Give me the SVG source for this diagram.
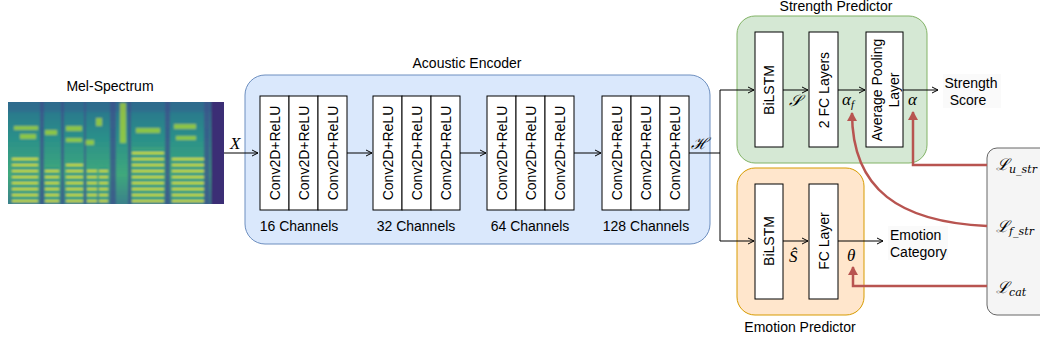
<svg xmlns="http://www.w3.org/2000/svg" width="1040" height="347" viewBox="0 0 1040 347">
<style>
text{font-family:"Liberation Sans",Arial,sans-serif;font-size:14px;fill:#000}
.m{font-family:"Liberation Serif","DejaVu Serif",serif;font-style:italic;font-size:17px}
.c{font-family:"DejaVu Serif",serif;font-style:italic;font-size:16px}
.blk{fill:#fff;stroke:#000;stroke-width:1}
.ln{fill:none;stroke:#000;stroke-width:1}
.red{fill:none;stroke:#b85450;stroke-width:2.5}
.v{text-anchor:middle;dominant-baseline:central}
</style>
<defs>
<marker id="ar" markerWidth="8" markerHeight="8" refX="7" refY="4" orient="auto" markerUnits="userSpaceOnUse">
<path d="M1,1 L7,4 L1,7" fill="none" stroke="#000" stroke-width="1"/>
</marker>
<marker id="rar" markerWidth="10" markerHeight="10" refX="8" refY="5" orient="auto" markerUnits="userSpaceOnUse">
<path d="M0,0 L9,5 L0,10 Z" fill="#b85450"/>
</marker>
<linearGradient id="sg" x1="0" y1="0" x2="0" y2="1">
<stop offset="0" stop-color="#2d708e"/>
<stop offset="0.35" stop-color="#2a8f8a"/>
<stop offset="0.7" stop-color="#3fa87c"/>
<stop offset="1" stop-color="#3a7f8c"/>
</linearGradient>
<pattern id="harm" width="10" height="6" patternUnits="userSpaceOnUse">
<rect width="10" height="6" fill="#2a9a86"/>
<rect y="2" width="10" height="2.2" fill="#d0e11c"/>
</pattern>
<filter id="bl" x="0" y="0" width="1" height="1"><feGaussianBlur stdDeviation="0.9"/></filter>
<clipPath id="sc"><rect x="8" y="102" width="216" height="102"/></clipPath>
</defs>

<g id="mel">
<text x="110" y="91" text-anchor="middle">Mel-Spectrum</text>
<g clip-path="url(#sc)">
<g filter="url(#bl)">
<rect x="6" y="100" width="220" height="106" fill="url(#sg)"/>
<rect x="6" y="100" width="220" height="12" fill="#31688e" opacity="0.6"/>
<g fill="url(#harm)">
<rect x="12" y="158" width="26" height="44"/>
<rect x="45" y="166" width="14" height="36"/>
<rect x="66" y="163" width="17" height="39"/>
<rect x="87" y="170" width="10" height="32"/>
<rect x="99" y="168" width="9" height="34"/>
<rect x="132" y="148" width="32" height="54"/>
<rect x="172" y="156" width="32" height="46"/>
</g>
<g fill="#b5de2b" opacity="0.7">
<rect x="14" y="126" width="24" height="4"/>
<rect x="20" y="134" width="16" height="5"/>
<rect x="45" y="130" width="12" height="5"/>
<rect x="66" y="126" width="16" height="5"/>
<rect x="66" y="138" width="16" height="4"/>
<rect x="84" y="140" width="10" height="5"/>
<rect x="136" y="128" width="24" height="5"/>
<rect x="174" y="124" width="22" height="5"/>
<rect x="120" y="103" width="6" height="40"/>
<rect x="96" y="118" width="6" height="8"/>
<rect x="176" y="136" width="20" height="4"/>
</g>
<g fill="#3b528b" opacity="0.75">
<rect x="40" y="100" width="4" height="106"/>
<rect x="61" y="100" width="3" height="106"/>
<rect x="84" y="100" width="2" height="106"/>
<rect x="110" y="100" width="6" height="106"/>
<rect x="128" y="100" width="3" height="106"/>
<rect x="165" y="100" width="5" height="106"/>
<rect x="204" y="100" width="6" height="106"/>
</g>
<rect x="211" y="100" width="15" height="106" fill="#3b2f74"/>
</g>
</g>
</g>

<g id="encoder">
<text x="467" y="68" text-anchor="middle">Acoustic Encoder</text>
<rect x="245" y="75" width="465" height="169" rx="20" fill="#dae8fc" stroke="#6c8ebf" stroke-width="1"/>
</g>

<g id="conv16">
<rect class="blk" x="260" y="96" width="29" height="114"/>
<rect class="blk" x="289" y="96" width="29" height="114"/>
<rect class="blk" x="318" y="96" width="29" height="114"/>
<text class="v" transform="rotate(-90 274.5 153)" x="274.5" y="153">Conv2D+ReLU</text>
<text class="v" transform="rotate(-90 303.5 153)" x="303.5" y="153">Conv2D+ReLU</text>
<text class="v" transform="rotate(-90 332.5 153)" x="332.5" y="153">Conv2D+ReLU</text>
<text x="299" y="231" text-anchor="middle">16 Channels</text>
</g>
<g id="conv32">
<rect class="blk" x="373" y="96" width="29" height="114"/>
<rect class="blk" x="402" y="96" width="29" height="114"/>
<rect class="blk" x="431" y="96" width="29" height="114"/>
<text class="v" transform="rotate(-90 387.5 153)" x="387.5" y="153">Conv2D+ReLU</text>
<text class="v" transform="rotate(-90 416.5 153)" x="416.5" y="153">Conv2D+ReLU</text>
<text class="v" transform="rotate(-90 445.5 153)" x="445.5" y="153">Conv2D+ReLU</text>
<text x="416" y="231" text-anchor="middle">32 Channels</text>
</g>
<g id="conv64">
<rect class="blk" x="487" y="96" width="29" height="114"/>
<rect class="blk" x="516" y="96" width="29" height="114"/>
<rect class="blk" x="545" y="96" width="29" height="114"/>
<text class="v" transform="rotate(-90 501.5 153)" x="501.5" y="153">Conv2D+ReLU</text>
<text class="v" transform="rotate(-90 530.5 153)" x="530.5" y="153">Conv2D+ReLU</text>
<text class="v" transform="rotate(-90 559.5 153)" x="559.5" y="153">Conv2D+ReLU</text>
<text x="530" y="231" text-anchor="middle">64 Channels</text>
</g>
<g id="conv128">
<rect class="blk" x="602" y="96" width="29" height="114"/>
<rect class="blk" x="631" y="96" width="29" height="114"/>
<rect class="blk" x="660" y="96" width="29" height="114"/>
<text class="v" transform="rotate(-90 616.5 153)" x="616.5" y="153">Conv2D+ReLU</text>
<text class="v" transform="rotate(-90 645.5 153)" x="645.5" y="153">Conv2D+ReLU</text>
<text class="v" transform="rotate(-90 674.5 153)" x="674.5" y="153">Conv2D+ReLU</text>
<text x="646" y="231" text-anchor="middle">128 Channels</text>
</g>

<g id="strength">
<text x="836" y="11" text-anchor="middle">Strength Predictor</text>
<rect x="737" y="16" width="190" height="147" rx="18" fill="#d5e8d4" stroke="#82b366" stroke-width="1"/>
<rect class="blk" x="755" y="32" width="28" height="115"/>
<rect class="blk" x="809" y="32" width="29" height="115"/>
<rect class="blk" x="866" y="32" width="37" height="115"/>
<text class="v" transform="rotate(-90 769 90)" x="769" y="90">BiLSTM</text>
<text class="v" transform="rotate(-90 823.5 90)" x="823.5" y="90">2 FC Layers</text>
<text class="v" transform="rotate(-90 877 90)" x="877" y="90">Average Pooling</text>
<text class="v" transform="rotate(-90 894 90)" x="894" y="90">Layer</text>
</g>

<g id="emotion">
<text x="800" y="332" text-anchor="middle">Emotion Predictor</text>
<rect x="737" y="168" width="127" height="147" rx="18" fill="#ffe6cc" stroke="#d79b00" stroke-width="1"/>
<rect class="blk" x="755" y="184" width="28" height="115"/>
<rect class="blk" x="809" y="184" width="29" height="115"/>
<text class="v" transform="rotate(-90 769 241)" x="769" y="241">BiLSTM</text>
<text class="v" transform="rotate(-90 823.5 241)" x="823.5" y="241">FC Layer</text>
</g>

<g id="losses">
<rect x="987" y="148" width="70" height="167" rx="10" fill="#f5f5f5" stroke="#666" stroke-width="1"/>
<text class="c" x="996" y="170">ℒ<tspan font-size="11" dy="3">u_str</tspan></text>
<text class="c" x="996" y="232">ℒ<tspan font-size="11" dy="3">f_str</tspan></text>
<text class="c" x="996" y="293">ℒ<tspan font-size="11" dy="3">cat</tspan></text>
</g>

<g id="outputs">
<rect x="943" y="74" width="58" height="34" fill="#fafafa"/>
<text x="971" y="88" text-anchor="middle">Strength</text>
<text x="968" y="105" text-anchor="middle">Score</text>
<rect x="888" y="226" width="60" height="34" fill="#fafafa"/>
<text x="890" y="240">Emotion</text>
<text x="890" y="257">Category</text>
</g>

<g id="connectors">
<path class="ln" d="M224,153 H258" marker-end="url(#ar)"/>
<path class="ln" d="M347,153 H372" marker-end="url(#ar)"/>
<path class="ln" d="M460,153 H486" marker-end="url(#ar)"/>
<path class="ln" d="M574,153 H601" marker-end="url(#ar)"/>
<path class="ln" d="M689,153 H720"/>
<path class="ln" d="M720,90 V241"/>
<path class="ln" d="M720,90 H754" marker-end="url(#ar)"/>
<path class="ln" d="M720,241 H754" marker-end="url(#ar)"/>
<path class="ln" d="M783,90 H808" marker-end="url(#ar)"/>
<path class="ln" d="M838,90 H865" marker-end="url(#ar)"/>
<path class="ln" d="M903,90 H938" marker-end="url(#ar)"/>
<path class="ln" d="M783,241 H808" marker-end="url(#ar)"/>
<path class="ln" d="M838,241 H883" marker-end="url(#ar)"/>
<path class="red" d="M987,165 H913 V112" marker-end="url(#rar)"/>
<path class="red" d="M987,226 C900,222 852,190 852,113" marker-end="url(#rar)"/>
<path class="red" d="M987,286 H853 V267" marker-end="url(#rar)"/>
</g>

<g id="labels">
<text class="m" x="230" y="149">X</text>
<text class="c" x="691" y="149">ℋ</text>
<text class="c" x="789" y="106">𝒮</text>
<text class="m" x="842" y="105">α<tspan font-size="11" dy="3">f</tspan></text>
<text class="m" x="908" y="105">α</text>
<text class="m" x="789" y="262">Ŝ</text>
<text class="m" x="847" y="261">θ</text>
</g>
</svg>
